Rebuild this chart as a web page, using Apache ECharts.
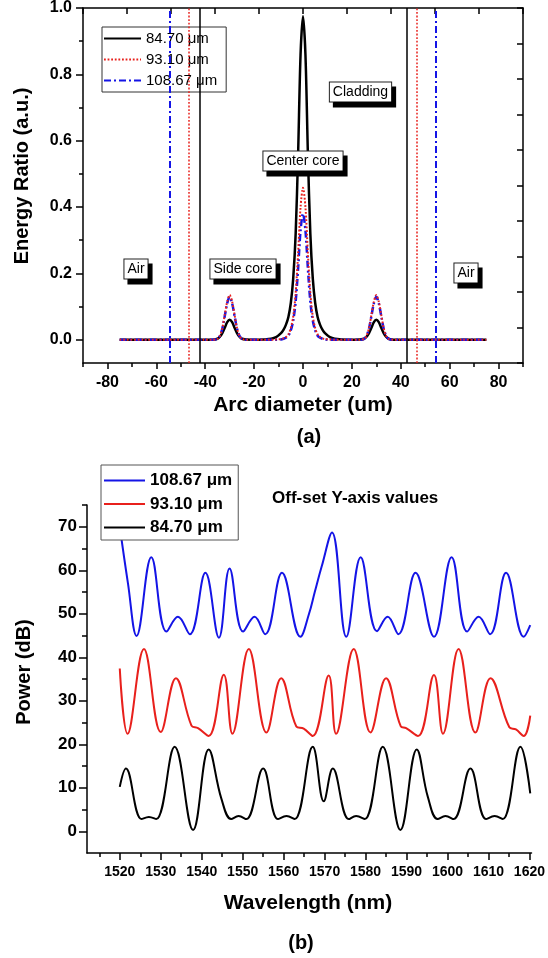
<!DOCTYPE html>
<html>
<head>
<meta charset="utf-8">
<script src="https://cdn.jsdelivr.net/npm/echarts@6/dist/echarts.min.js"></script>
<style>
  html, body { margin: 0; padding: 0; background: #fff; }
  #chart { width: 548px; height: 958px; }
</style>
</head>
<body>
<div id="chart"></div>
<script>
// ---------- (a) energy ratio across the arc diameter ----------
const diameters = [84.70, 93.10, 108.67];           // fibre diameters, µm
const diameterLabels = ['84.70 μm', '93.10 μm', '108.67 μm'];

const arcX = [-75, -65, -55, -45, -40, -37, -35, -34, -33, -32, -31, -30, -29, -28, -27, -26, -25,
  -23, -20, -16, -13, -11, -9, -8, -7, -6, -5, -4, -3, -2, -1, 0,
  1, 2, 3, 4, 5, 6, 7, 8, 9, 11, 13, 16, 20, 23,
  25, 26, 27, 28, 29, 30, 31, 32, 33, 34, 35, 37, 40, 45, 55, 65, 75];

const ratio84 = [0, 0, 0, 0, 0, 0, 0.003, 0.009, 0.020, 0.036, 0.053, 0.060, 0.053, 0.036, 0.020, 0.009, 0.003,
  0.001, 0, 0.001, 0.003, 0.008, 0.020, 0.030, 0.045, 0.068, 0.110, 0.185, 0.320, 0.560, 0.860, 0.975,
  0.860, 0.560, 0.320, 0.185, 0.110, 0.068, 0.045, 0.030, 0.020, 0.008, 0.003, 0.001, 0, 0.001,
  0.003, 0.009, 0.020, 0.036, 0.053, 0.060, 0.053, 0.036, 0.020, 0.009, 0.003, 0, 0, 0, 0, 0, 0];

const ratio93 = [0, 0, 0, 0, 0, 0, 0.003, 0.012, 0.035, 0.075, 0.115, 0.135, 0.115, 0.075, 0.035, 0.012, 0.003,
  0, 0, 0, 0, 0.001, 0.002, 0.004, 0.008, 0.016, 0.035, 0.070, 0.140, 0.260, 0.400, 0.458,
  0.400, 0.260, 0.140, 0.070, 0.035, 0.016, 0.008, 0.004, 0.002, 0.001, 0, 0, 0, 0,
  0.003, 0.012, 0.035, 0.075, 0.115, 0.135, 0.115, 0.075, 0.035, 0.012, 0.003, 0, 0, 0, 0, 0, 0];

const ratio108 = [0, 0, 0, 0, 0, 0, 0.003, 0.012, 0.034, 0.072, 0.110, 0.130, 0.110, 0.072, 0.034, 0.012, 0.003,
  0, 0, 0, 0, 0, 0.001, 0.003, 0.006, 0.012, 0.028, 0.058, 0.115, 0.215, 0.330, 0.380,
  0.330, 0.215, 0.115, 0.058, 0.028, 0.012, 0.006, 0.003, 0.001, 0, 0, 0, 0, 0,
  0.003, 0.012, 0.034, 0.072, 0.110, 0.130, 0.110, 0.072, 0.034, 0.012, 0.003, 0, 0, 0, 0, 0, 0];

const arcTicks = [-80, -60, -40, -20, 0, 20, 40, 60, 80];
const arcMinorTicks = [-90, -70, -50, -30, -10, 10, 30, 50, 70, 90];
const ratioTicks = [0, 0.2, 0.4, 0.6, 0.8, 1.0];
const ratioMinorTicks = [0.1, 0.3, 0.5, 0.7, 0.9];

// ---------- (b) transmission spectra (offset) ----------
const wl108 = [1520.0, 1522.0, 1524.1, 1527.7, 1531.4, 1534.2, 1537.1, 1540.9, 1544.2, 1546.8, 1550.1,
  1552.9, 1555.5, 1559.6, 1564.1, 1566.2, 1567.6, 1569.3, 1571.8, 1575.3, 1578.8, 1582.8, 1585.4,
  1588.0, 1592.2, 1596.7, 1601.0, 1604.8, 1607.6, 1610.4, 1614.3, 1618.6, 1620.2];
const pow108 = [70.0, 57.0, 44.9, 63.0, 45.9, 49.3, 45.3, 59.4, 44.5, 60.4, 45.9,
  49.3, 45.3, 59.4, 44.7, 50.0, 55.0, 60.9, 68.7, 44.7, 63.0, 46.0, 49.3,
  45.3, 59.4, 44.7, 63.0, 45.9, 49.3, 45.3, 59.4, 44.7, 47.4];

const wl93 = [1520.0, 1521.9, 1525.9, 1530.0, 1533.7, 1537.5, 1539.1, 1541.7, 1545.4, 1547.5, 1551.5,
  1555.8, 1559.4, 1563.1, 1564.9, 1567.1, 1571.0, 1572.8, 1577.1, 1581.2, 1585.0, 1588.6, 1589.9,
  1592.8, 1596.7, 1598.9, 1602.7, 1606.8, 1610.5, 1615.1, 1616.7, 1618.6, 1620.2];
const pow93 = [37.4, 22.4, 41.9, 22.8, 35.2, 24.3, 23.7, 21.9, 36.0, 22.4, 41.9,
  22.7, 35.2, 24.1, 23.6, 21.9, 35.8, 22.4, 41.9, 22.7, 35.2, 24.1, 23.7,
  21.9, 35.9, 22.4, 41.9, 22.7, 35.2, 23.9, 23.4, 21.9, 26.6];

const wl84 = [1520.0, 1521.5, 1525.3, 1527.1, 1528.9, 1533.4, 1537.9, 1541.7, 1544.8, 1547.2, 1549.0,
  1550.9, 1555.0, 1558.6, 1560.7, 1562.7, 1567.1, 1569.8, 1572.0, 1575.9, 1577.7, 1579.8, 1584.2,
  1588.5, 1592.5, 1595.2, 1597.6, 1599.5, 1601.5, 1605.6, 1609.4, 1611.5, 1613.5, 1617.8, 1620.2];
const pow84 = [10.2, 14.4, 2.8, 3.3, 2.8, 19.4, 0.3, 18.8, 7.5, 2.8, 3.5,
  2.8, 14.4, 2.8, 3.5, 2.8, 19.4, 6.9, 14.4, 2.8, 3.5, 2.8, 19.4,
  0.3, 18.8, 7.9, 2.8, 3.5, 2.8, 14.4, 2.8, 3.5, 2.8, 19.4, 8.7];

const wlTicks = [1520, 1530, 1540, 1550, 1560, 1570, 1580, 1590, 1600, 1610, 1620];
const wlMinorTicks = [1515, 1525, 1535, 1545, 1555, 1565, 1575, 1585, 1595, 1605, 1615];
const powTicks = [0, 10, 20, 30, 40, 50, 60, 70];
const powMinorTicks = [5, 15, 25, 35, 45, 55, 65, 75];

// ---------- helpers ----------
const FONT = "'Liberation Sans', Arial, Helvetica, sans-serif";
const zip = (xs, ys) => xs.map((x, i) => [x, ys[i]]);

const colBlack = '#000000';
const colRed = '#e8201c';
const colBlue = '#1414e6';
const dashDot = [7, 3, 2, 3];
const dotted = [1.8, 1.8];

const tickStyle = { color: '#000', width: 1.5 };
const axisLineStyle = { color: '#000', width: 1.5 };

// an axis that only contributes short (minor) tick marks
function minorTickAxis(gridIndex, position, min, max, values, length) {
  return {
    type: 'value', gridIndex: gridIndex, position: position, min: min, max: max,
    axisLine: { show: false, onZero: false },
    axisLabel: { show: false },
    splitLine: { show: false },
    axisTick: { show: true, customValues: values, length: length, lineStyle: tickStyle }
  };
}

function boundaryLines(d, color, width, type) {
  return {
    symbol: 'none',
    silent: true,
    animation: false,
    label: { show: false },
    emphasis: { disabled: true },
    lineStyle: { color: color, width: width, type: type },
    data: [{ xAxis: -d / 2 }, { xAxis: d / 2 }]
  };
}

function boxedNote(text, x, y) {
  return {
    type: 'text',
    x: x, y: y,
    z: 50,
    style: {
      text: text,
      font: '14px ' + FONT,
      fill: '#000',
      align: 'center',
      verticalAlign: 'middle',
      backgroundColor: '#fff',
      borderColor: '#222',
      borderWidth: 1,
      padding: [3, 3, 2, 3],
      shadowColor: '#000',
      shadowBlur: 0,
      shadowOffsetX: 4,
      shadowOffsetY: 5
    }
  };
}

function title(text, x, y, size, rotate, align) {
  return {
    type: 'text',
    x: x, y: y,
    rotation: rotate ? Math.PI / 2 : 0,
    style: {
      text: text,
      font: 'bold ' + size + 'px ' + FONT,
      fill: '#000',
      align: align || 'center',
      verticalAlign: 'middle'
    }
  };
}

const legendNames = {
  'E84': diameterLabels[0], 'E93': diameterLabels[1], 'E108': diameterLabels[2],
  'P84': diameterLabels[0], 'P93': diameterLabels[1], 'P108': diameterLabels[2]
};

const chart = echarts.init(document.getElementById('chart'), null, { renderer: 'canvas' });

const option = {
  animation: false,
  backgroundColor: '#fff',
  textStyle: { fontFamily: FONT },
  grid: [
    { left: 83, right: 25, top: 8, bottom: 595, containLabel: false },
    { left: 87, right: 16, top: 505, bottom: 105, containLabel: false }
  ],
  xAxis: [
    { // (a) arc diameter, labelled ticks
      type: 'value', gridIndex: 0, position: 'bottom', min: -90, max: 90,
      axisLine: { show: true, onZero: false, lineStyle: axisLineStyle },
      axisTick: { show: true, customValues: arcTicks, length: 6, lineStyle: tickStyle },
      axisLabel: { customValues: arcTicks, margin: 12, color: '#000', fontSize: 16, fontWeight: 'bold', fontFamily: FONT },
      splitLine: { show: false }
    },
    minorTickAxis(0, 'bottom', -90, 90, arcMinorTicks, 4),
    { // (a) top frame
      type: 'value', gridIndex: 0, position: 'top', min: 0, max: 10, interval: 1,
      axisLine: { show: true, onZero: false, lineStyle: axisLineStyle },
      axisTick: { show: true, inside: true, length: 6, lineStyle: tickStyle },
      axisLabel: { show: false }, splitLine: { show: false }
    },
    { // (b) wavelength, labelled ticks
      type: 'value', gridIndex: 1, position: 'bottom', min: 1512, max: 1620.5,
      axisLine: { show: true, onZero: false, lineStyle: axisLineStyle },
      axisTick: { show: true, customValues: wlTicks, length: 7, lineStyle: tickStyle },
      axisLabel: { customValues: wlTicks, margin: 12, color: '#000', fontSize: 14, fontWeight: 'bold', fontFamily: FONT,
        formatter: v => String(v) },
      splitLine: { show: false }
    },
    minorTickAxis(1, 'bottom', 1512, 1620.5, wlMinorTicks, 4)
  ],
  yAxis: [
    { // (a) energy ratio, labelled ticks
      type: 'value', gridIndex: 0, position: 'left', min: -0.07, max: 1.0,
      axisLine: { show: true, onZero: false, lineStyle: axisLineStyle },
      axisTick: { show: true, customValues: ratioTicks, length: 7, lineStyle: tickStyle },
      axisLabel: { customValues: ratioTicks, margin: 11, color: '#000', fontSize: 16, fontWeight: 'bold', fontFamily: FONT,
        formatter: v => v.toFixed(1) },
      splitLine: { show: false }
    },
    minorTickAxis(0, 'left', -0.07, 1.0, ratioMinorTicks, 4),
    { // (a) right frame
      type: 'value', gridIndex: 0, position: 'right', min: 0, max: 10, interval: 1,
      axisLine: { show: true, onZero: false, lineStyle: axisLineStyle },
      axisTick: { show: true, inside: true, length: 6, lineStyle: tickStyle },
      axisLabel: { show: false }, splitLine: { show: false }
    },
    { // (b) power, labelled ticks
      type: 'value', gridIndex: 1, position: 'left', min: -5, max: 75,
      axisLine: { show: true, onZero: false, lineStyle: axisLineStyle },
      axisTick: { show: true, customValues: powTicks, length: 8, lineStyle: tickStyle },
      axisLabel: { customValues: powTicks, margin: 10, color: '#000', fontSize: 17, fontWeight: 'bold', fontFamily: FONT },
      splitLine: { show: false }
    },
    minorTickAxis(1, 'left', -5, 75, powMinorTicks, 5)
  ],
  legend: [
    {
      orient: 'vertical', left: 102, top: 27,
      data: ['E84', 'E93', 'E108'],
      formatter: n => legendNames[n],
      itemWidth: 37, itemHeight: 14, itemGap: 6,
      padding: [4, 9, 4, 1],
      borderColor: '#333', borderWidth: 1, backgroundColor: '#fff',
      itemStyle: { opacity: 0, borderWidth: 0 },
      textStyle: { fontSize: 15, color: '#000', fontFamily: FONT },
      selectedMode: false
    },
    {
      orient: 'vertical', left: 101, top: 465,
      data: ['P108', 'P93', 'P84'],
      formatter: n => legendNames[n],
      itemWidth: 41, itemHeight: 14, itemGap: 6.5,
      padding: [7, 6, 4, 2],
      borderColor: '#555', borderWidth: 1, backgroundColor: '#fff',
      itemStyle: { opacity: 0, borderWidth: 0 },
      textStyle: { fontSize: 17, fontWeight: 'bold', color: '#000', fontFamily: FONT },
      selectedMode: false
    }
  ],
  series: [
    {
      name: 'E84', type: 'line', xAxisIndex: 0, yAxisIndex: 0, z: 2,
      data: zip(arcX, ratio84), symbol: 'none', smooth: 0.3,
      lineStyle: { color: colBlack, width: 2.5 }, itemStyle: { color: colBlack },
      markLine: boundaryLines(diameters[0], colBlack, 1.5, 'solid')
    },
    {
      name: 'E108', type: 'line', xAxisIndex: 0, yAxisIndex: 0, z: 3,
      data: zip(arcX, ratio108), symbol: 'none', smooth: 0.3,
      lineStyle: { color: colBlue, width: 2.5, type: dashDot }, itemStyle: { color: colBlue },
      markLine: boundaryLines(diameters[2], colBlue, 2, dashDot)
    },
    {
      name: 'E93', type: 'line', xAxisIndex: 0, yAxisIndex: 0, z: 4,
      data: zip(arcX, ratio93), symbol: 'none', smooth: 0.3,
      lineStyle: { color: colRed, width: 2, type: dotted }, itemStyle: { color: colRed },
      markLine: boundaryLines(diameters[1], colRed, 1.5, dotted)
    },
    {
      name: 'P108', type: 'line', xAxisIndex: 3, yAxisIndex: 3,
      data: zip(wl108, pow108), symbol: 'none', smooth: 0.4,
      lineStyle: { color: colBlue, width: 2 }, itemStyle: { color: colBlue }
    },
    {
      name: 'P93', type: 'line', xAxisIndex: 3, yAxisIndex: 3,
      data: zip(wl93, pow93), symbol: 'none', smooth: 0.4,
      lineStyle: { color: colRed, width: 2 }, itemStyle: { color: colRed }
    },
    {
      name: 'P84', type: 'line', xAxisIndex: 3, yAxisIndex: 3,
      data: zip(wl84, pow84), symbol: 'none', smooth: 0.4,
      lineStyle: { color: colBlack, width: 2 }, itemStyle: { color: colBlack }
    }
  ],
  graphic: [
    title('Energy Ratio (a.u.)', 22.5, 176, 20, true),
    title('Arc diameter (um)', 303, 405, 21),
    title('(a)', 309, 437, 20),
    title('Power (dB)', 24.5, 672, 20, true),
    title('Wavelength (nm)', 308, 903, 21),
    title('(b)', 301, 943, 20),
    title('Off-set Y-axis values', 272, 498, 17, false, 'left'),
    boxedNote('Air', 136, 269),
    boxedNote('Side core', 243, 269),
    boxedNote('Center core', 303, 161),
    boxedNote('Cladding', 360.5, 92),
    boxedNote('Air', 466, 273)
  ]
};

chart.setOption(option);
</script>
</body>
</html>
